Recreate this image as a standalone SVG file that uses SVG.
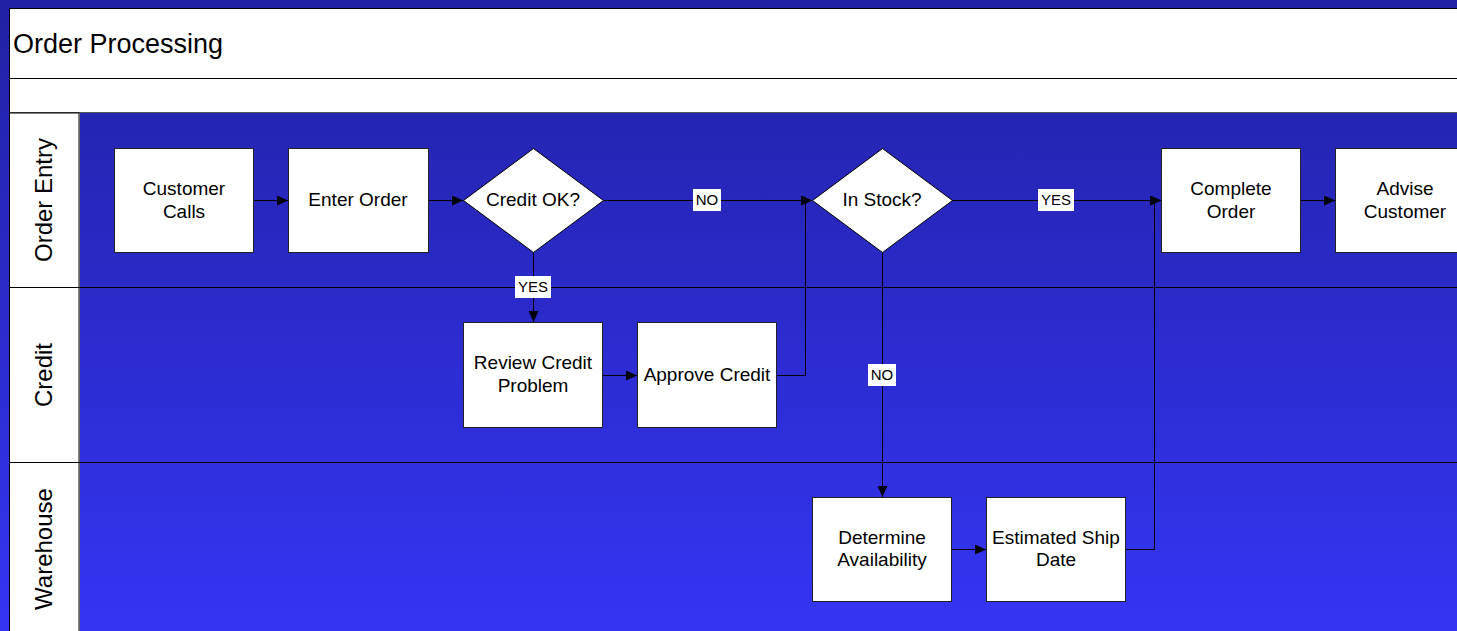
<svg xmlns="http://www.w3.org/2000/svg" width="1457" height="631" viewBox="0 0 1457 631">
  <defs>
    <linearGradient id="bg" x1="0" y1="0" x2="0" y2="1">
      <stop offset="0" stop-color="#2121a4"/>
      <stop offset="1" stop-color="#3535f4"/>
    </linearGradient>
    <marker id="arrow" markerWidth="11" markerHeight="10" refX="11" refY="5" orient="auto" markerUnits="userSpaceOnUse">
      <path d="M0,0 L11,5 L0,10 z" fill="#000"/>
    </marker>
    <style>
      text { font-family: "Liberation Sans", Arial, sans-serif; fill: #000; }
      .box { fill: #fff; stroke: #222; stroke-width: 1; }
      .dia { fill: #fff; stroke: #000; stroke-width: 1; }
      .node { font-size: 19px; text-anchor: middle; }
      .lane-title { font-size: 24px; text-anchor: middle; }
      .lane-line { stroke: #000; stroke-width: 1; }
      .conn { fill: none; stroke: #000; stroke-width: 1; marker-end: url(#arrow); }
      .tag { fill: #fff; }
      .tag-text { font-size: 15px; text-anchor: middle; }
    </style>
  </defs>

  <!-- backdrop -->
  <rect x="0" y="0" width="1457" height="631" fill="url(#bg)"/>

  <!-- pool header -->
  <g id="header">
    <rect x="9.5" y="8.5" width="1460" height="104" fill="#fff" stroke="#000"/>
    <line x1="9" y1="78.5" x2="1457" y2="78.5" stroke="#000"/>
    <line x1="9" y1="112.5" x2="1457" y2="112.5" stroke="#555"/>
    <text x="13" y="52.5" font-size="27">Order Processing</text>
  </g>

  <!-- lane label column and separators -->
  <g id="lanes">
    <rect x="9.5" y="113" width="69.5" height="530" fill="#fff" stroke="#000"/>
    <line x1="79.5" y1="113" x2="79.5" y2="631" stroke="#666"/>
    <line class="lane-line" x1="9" y1="287.5" x2="1457" y2="287.5"/>
    <line class="lane-line" x1="9" y1="462.5" x2="1457" y2="462.5"/>
    <text class="lane-title" transform="translate(52,200) rotate(-90)">Order Entry</text>
    <text class="lane-title" transform="translate(52,375) rotate(-90)">Credit</text>
    <text class="lane-title" transform="translate(52,549) rotate(-90)">Warehouse</text>
  </g>

  <!-- connectors -->
  <g id="connectors">
    <path class="conn" d="M253,200.5 H288"/>
    <path class="conn" d="M428,200.5 H463"/>
    <path class="conn" d="M603,200.5 H812"/>
    <path class="conn" d="M533.5,252 V322"/>
    <path class="conn" d="M603,375.5 H637"/>
    <path class="conn" d="M777,375.5 H805.5 V200.5 H812"/>
    <path class="conn" d="M952,200.5 H1161"/>
    <path class="conn" d="M882.5,252 V497"/>
    <path class="conn" d="M951,549.5 H986"/>
    <path class="conn" d="M1126,549.5 H1154.5 V200.5 H1161"/>
    <path class="conn" d="M1300,200.5 H1335"/>

    <rect class="tag" x="693" y="189" width="28" height="22"/>
    <text class="tag-text" x="707" y="205">NO</text>
    <rect class="tag" x="515" y="276" width="36" height="22"/>
    <text class="tag-text" x="533" y="292">YES</text>
    <rect class="tag" x="1038" y="189" width="36" height="22"/>
    <text class="tag-text" x="1056" y="205">YES</text>
    <rect class="tag" x="868" y="364" width="28" height="22"/>
    <text class="tag-text" x="882" y="380">NO</text>
  </g>

  <!-- Order Entry lane -->
  <g id="customer-calls">
    <rect class="box" x="114.5" y="148.5" width="139" height="104"/>
    <text class="node" x="184" y="195">Customer</text>
    <text class="node" x="184" y="217.5">Calls</text>
  </g>
  <g id="enter-order">
    <rect class="box" x="288.5" y="148.5" width="140" height="104"/>
    <text class="node" x="358" y="205.5">Enter Order</text>
  </g>
  <g id="credit-ok">
    <polygon class="dia" points="533.5,148.5 603.5,200.5 533.5,252.5 463.5,200.5"/>
    <text class="node" x="533" y="205.5">Credit OK?</text>
  </g>
  <g id="in-stock">
    <polygon class="dia" points="882.5,148.5 952.5,200.5 882.5,252.5 812.5,200.5"/>
    <text class="node" x="882" y="205.5">In Stock?</text>
  </g>
  <g id="complete-order">
    <rect class="box" x="1161.5" y="148.5" width="139" height="104"/>
    <text class="node" x="1231" y="195">Complete</text>
    <text class="node" x="1231" y="217.5">Order</text>
  </g>
  <g id="advise-customer">
    <rect class="box" x="1335.5" y="148.5" width="140" height="104"/>
    <text class="node" x="1405" y="195">Advise</text>
    <text class="node" x="1405" y="217.5">Customer</text>
  </g>

  <!-- Credit lane -->
  <g id="review-credit">
    <rect class="box" x="463.5" y="322.5" width="139" height="105"/>
    <text class="node" x="533" y="369">Review Credit</text>
    <text class="node" x="533" y="391.5">Problem</text>
  </g>
  <g id="approve-credit">
    <rect class="box" x="637.5" y="322.5" width="139" height="105"/>
    <text class="node" x="707" y="380.5">Approve Credit</text>
  </g>

  <!-- Warehouse lane -->
  <g id="determine-availability">
    <rect class="box" x="812.5" y="497.5" width="139" height="104"/>
    <text class="node" x="882" y="543.5">Determine</text>
    <text class="node" x="882" y="566">Availability</text>
  </g>
  <g id="estimated-ship-date">
    <rect class="box" x="986.5" y="497.5" width="139" height="104"/>
    <text class="node" x="1056" y="543.5">Estimated Ship</text>
    <text class="node" x="1056" y="566">Date</text>
  </g>
</svg>
